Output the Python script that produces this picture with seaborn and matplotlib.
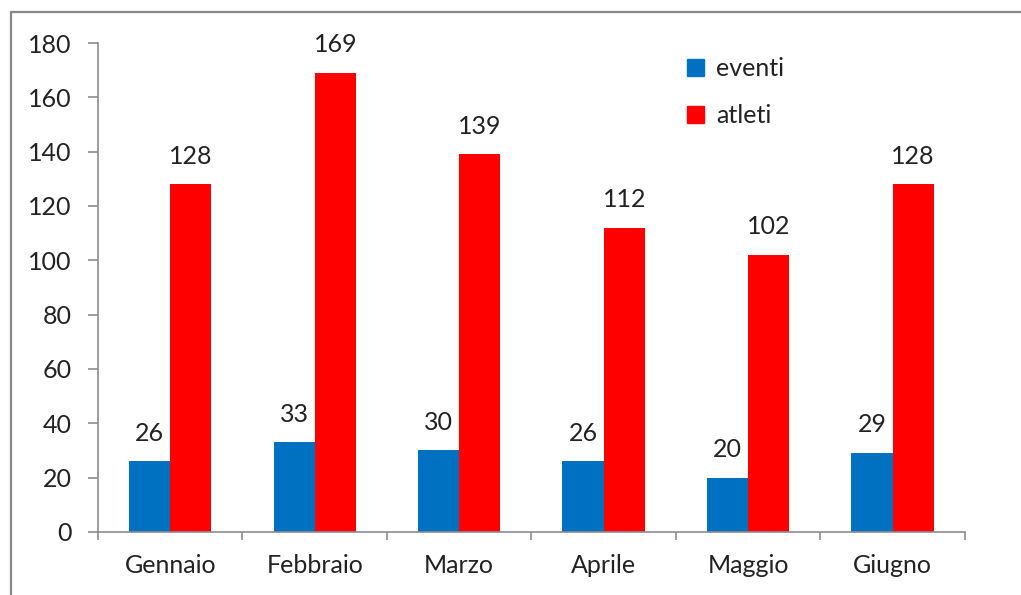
import pandas as pd
import matplotlib.pyplot as plt
import seaborn as sns
from matplotlib.lines import Line2D

months = ["Gennaio", "Febbraio", "Marzo", "Aprile", "Maggio", "Giugno"]
eventi = [26, 33, 30, 26, 20, 29]
atleti = [128, 169, 139, 112, 102, 128]
series = ["eventi", "atleti"]
colors = {"eventi": "#0070C0", "atleti": "#FF0000"}

df = pd.DataFrame({
    "mese": months * 2,
    "valore": eventi + atleti,
    "serie": ["eventi"] * len(months) + ["atleti"] * len(months),
})

sns.set_style("white")
plt.rcParams["font.family"] = ["Lato", "DejaVu Sans"]
fs = 18

fig = plt.figure(figsize=(10.21, 5.95), dpi=100)
ax = fig.add_axes([0.096, 0.106, 0.849, 0.8217])

sns.barplot(data=df, x="mese", y="valore", hue="serie", hue_order=series,
            order=months, palette=colors, width=0.57, saturation=1,
            edgecolor="none", linewidth=0, ax=ax)

# value labels above bars
for cont in ax.containers:
    ax.bar_label(cont, padding=12, fontsize=fs, color="#222222")

ax.set_xlim(-0.5, len(months) - 0.5)
ax.set_ylim(0, 180)
ax.set_yticks(range(0, 181, 20))
ax.set_xlabel("")
ax.set_ylabel("")

# axes styling like the spreadsheet chart
for s in ["top", "right"]:
    ax.spines[s].set_visible(False)
for s in ["left", "bottom"]:
    ax.spines[s].set_color("#8c8c8c")
    ax.spines[s].set_linewidth(1.2)
ax.tick_params(axis="y", which="major", left=True, length=7, width=1.2,
               color="#8c8c8c", pad=12, labelsize=fs, labelcolor="#222222")
ax.tick_params(axis="x", which="major", bottom=False, length=0, pad=16,
               labelsize=fs, labelcolor="#222222")
ax.set_xticks([i - 0.5 for i in range(len(months) + 1)], minor=True)
ax.tick_params(axis="x", which="minor", bottom=True, length=6, width=1.2,
               color="#8c8c8c")

handles = [plt.Rectangle((0, 0), 1, 1, color=colors[s]) for s in series]
ax.legend(handles, series, loc="upper left", bbox_to_anchor=(0.656, 0.933),
          bbox_transform=fig.transFigure, frameon=False, fontsize=fs,
          handlelength=0.65, handleheight=0.65, handletextpad=0.5,
          labelspacing=0.95, labelcolor="#222222", borderpad=0.2)

# outer chart frame (partially visible)
fc = "#888888"
fig.add_artist(Line2D([10.5 / 1021, 10.5 / 1021], [0, 1 - 12 / 595],
                      transform=fig.transFigure, color=fc, lw=1.6))
fig.add_artist(Line2D([10.5 / 1021, 1], [1 - 12 / 595, 1 - 12 / 595],
                      transform=fig.transFigure, color=fc, lw=1.6))

fig.savefig("out.png", dpi=100)
